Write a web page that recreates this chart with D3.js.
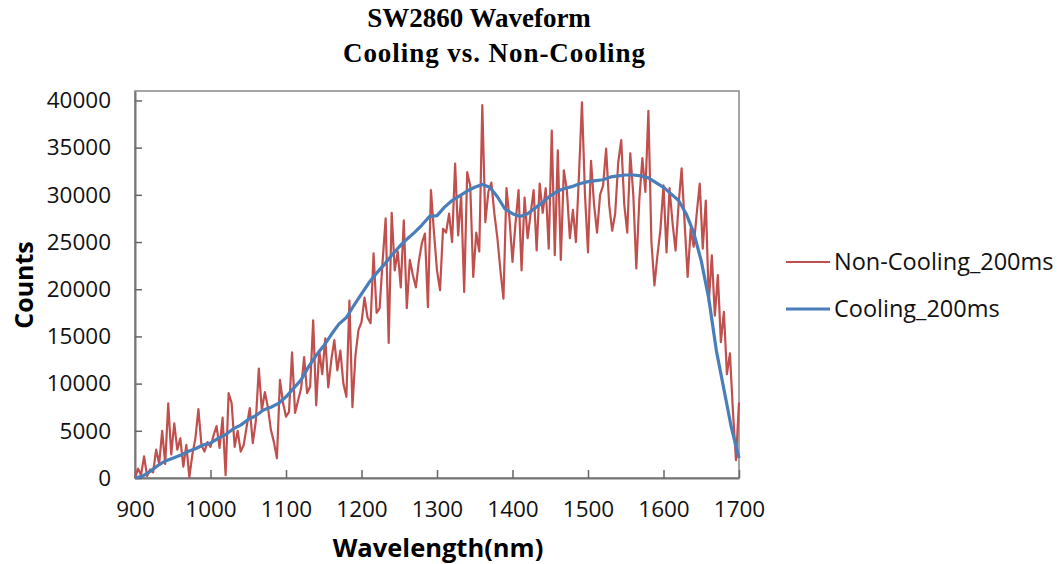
<!DOCTYPE html>
<html>
<head>
<meta charset="utf-8">
<script src="https://cdn.jsdelivr.net/npm/d3@7"></script>
<style>
  body { margin: 0; background: #fff; }
  svg { display: block; }
  .tick text { font-family: "Open Sans", "Noto Sans", sans-serif; font-size: 22.5px; fill: #111; }
</style>
</head>
<body>
<svg width="1062" height="564"></svg>
<script>
// Wavelength sampling (nm) for each series
var nonCoolStart = 900, nonCoolStep = 4;
var coolStart = 900, coolStep = 10;

// Non-Cooling_200ms counts, one per 4 nm from 900 to 1700
var nonCooling = [
  0, 1000, 300, 2300, 200, 900, 600, 3000, 1500, 5000, 1500, 7900, 2500, 5800, 3000, 4200, 1200, 3500, 100, 2500, 4200, 7300, 3500, 2800, 3800,
  3300, 4500, 5500, 3200, 6400, 300, 9000, 7900, 3300, 5000, 2800, 3500, 5500, 7400, 3700, 6000, 11600, 7200, 9100, 7500, 5100, 3800, 2100, 10400, 8000,
  6500, 7000, 13300, 6900, 8200, 9500, 12800, 9000, 9700, 16700, 7700, 13500, 11000, 14800, 9600, 12500, 14600, 11400, 13500, 10000, 8600, 18800, 7500, 13000, 15700,
  16500, 19100, 17000, 16400, 23800, 17500, 18000, 23000, 27500, 14300, 28100, 22000, 24000, 20200, 27300, 18000, 23100, 21500, 20200, 23000, 24900, 25900, 18100, 30500, 26000,
  22000, 19900, 26400, 26000, 28000, 25000, 33300, 25700, 29900, 19700, 32400, 31000, 21300, 26000, 24000, 39500, 27100, 30300, 31300, 28000, 25400, 22000, 19000, 30700, 27500,
  22900, 27000, 30500, 22000, 29700, 25400, 28000, 30500, 24100, 31200, 28100, 30700, 24300, 36800, 23600, 34700, 23100, 32600, 30500, 25400, 28400, 25000, 32000, 39800, 30000,
  23900, 33600, 29000, 26000, 30000, 31000, 34900, 29000, 26200, 28000, 33400, 35800, 29000, 26000, 34400, 30000, 22200, 29500, 33900, 30300, 38900, 25000, 20400, 23600, 26400,
  31000, 23900, 30700, 27000, 24100, 29000, 32800, 27000, 21300, 26400, 24500, 28000, 31200, 24300, 29400, 18600, 23600, 17200, 21500, 14400, 17600, 11000, 13200, 7000, 1900,
  8000
];

// Cooling_200ms counts, one per 10 nm from 900 to 1700
var cooling = [
  0, 200, 700, 1300, 1800, 2100, 2400, 2800, 3100, 3500,
  3700, 4200, 4600, 5200, 5600, 6200, 6600, 7200, 7500, 7900,
  8600, 9500, 10400, 11800, 13000, 14000, 15200, 16300, 17000, 18300,
  19500, 20700, 21700, 22600, 23600, 24500, 25300, 26000, 26800, 27700,
  27800, 28700, 29400, 29900, 30400, 30800, 31100, 30800, 29800, 28500,
  28000, 27700, 28000, 28600, 29200, 29900, 30400, 30700, 30900, 31200,
  31400, 31500, 31600, 31900, 32000, 32100, 32100, 32000, 31800, 31300,
  30800, 30100, 29400, 28000, 26000, 23000, 19000, 13500, 9400, 5300,
  2100
];

var xTicks = [900, 1000, 1100, 1200, 1300, 1400, 1500, 1600, 1700];
var yTicks = [0, 5000, 10000, 15000, 20000, 25000, 30000, 35000, 40000];

var seriesNames = ["Non-Cooling_200ms", "Cooling_200ms"];
var seriesColors = ["#c0504d", "#4a7ebb"];

var svg = d3.select("svg");

var x = d3.scaleLinear().domain([900, 1700]).range([135, 739]);
var y = d3.scaleLinear().domain([0, 41000]).range([478, 91]);

// Title
var title = svg.append("text")
    .attr("text-anchor", "middle")
    .style("font-family", "'Liberation Serif', 'Times New Roman', serif")
    .style("font-weight", "bold")
    .style("font-size", "27px");
title.append("tspan").attr("x", 479).attr("y", 27).text("SW2860 Waveform");
title.append("tspan").attr("x", 494).attr("y", 62).attr("textLength", 302).text("Cooling vs. Non-Cooling");

// Plot area frame
svg.append("rect")
    .attr("x", x(900))
    .attr("y", y(41000))
    .attr("width", x(1700) - x(900))
    .attr("height", y(0) - y(41000))
    .attr("fill", "none")
    .attr("stroke", "#888")
    .attr("stroke-width", 1.5);

// Axes with inward ticks
var xAxis = svg.append("g")
    .attr("transform", "translate(0," + y(0) + ")")
    .call(d3.axisBottom(x).tickValues(xTicks).tickFormat(d3.format("d"))
        .tickSizeInner(-8).tickSizeOuter(0).tickPadding(23));

var yAxis = svg.append("g")
    .attr("transform", "translate(" + x(900) + ",0)")
    .call(d3.axisLeft(y).tickValues(yTicks).tickFormat(d3.format("d"))
        .tickSizeInner(-7).tickSizeOuter(0).tickPadding(24));

svg.selectAll(".domain").attr("stroke", "#777").attr("stroke-width", 2);
svg.selectAll(".tick line").attr("stroke", "#666").attr("stroke-width", 1.5);

// Axis titles
svg.append("text")
    .attr("x", 438)
    .attr("y", 557)
    .attr("text-anchor", "middle")
    .style("font-family", "'Open Sans', 'Noto Sans', sans-serif")
    .style("font-weight", "bold")
    .style("font-size", "25.5px")
    .text("Wavelength(nm)");

svg.append("text")
    .attr("transform", "translate(33,285) rotate(-90)")
    .attr("text-anchor", "middle")
    .style("font-family", "'Open Sans', 'Noto Sans', sans-serif")
    .style("font-weight", "bold")
    .style("font-size", "25px")
    .text("Counts");

// Series lines
var line = d3.line()
    .x(function(d) { return x(d[0]); })
    .y(function(d) { return y(d[1]); });

var redPts = nonCooling.map(function(v, i) { return [nonCoolStart + i * nonCoolStep, v]; });
var bluePts = cooling.map(function(v, i) { return [coolStart + i * coolStep, v]; });

svg.append("path")
    .datum(redPts)
    .attr("d", line)
    .attr("fill", "none")
    .attr("stroke", seriesColors[0])
    .attr("stroke-width", 2.2)
    .attr("stroke-linejoin", "round");

svg.append("path")
    .datum(bluePts)
    .attr("d", line)
    .attr("fill", "none")
    .attr("stroke", seriesColors[1])
    .attr("stroke-width", 3.2)
    .attr("stroke-linejoin", "round");

// Legend
var legend = svg.append("g")
    .selectAll("g")
    .data(seriesNames)
    .enter().append("g")
    .attr("transform", function(d, i) { return "translate(786," + (262 + i * 47) + ")"; });

legend.append("line")
    .attr("x1", 0).attr("x2", 44)
    .attr("stroke", function(d, i) { return seriesColors[i]; })
    .attr("stroke-width", function(d, i) { return i == 0 ? 2 : 3; });

legend.append("text")
    .attr("x", 48)
    .attr("dy", "0.35em")
    .style("font-family", "'Open Sans', 'Noto Sans', sans-serif")
    .style("font-size", "23.5px")
    .style("fill", "#111")
    .text(function(d) { return d; });
</script>
</body>
</html>
